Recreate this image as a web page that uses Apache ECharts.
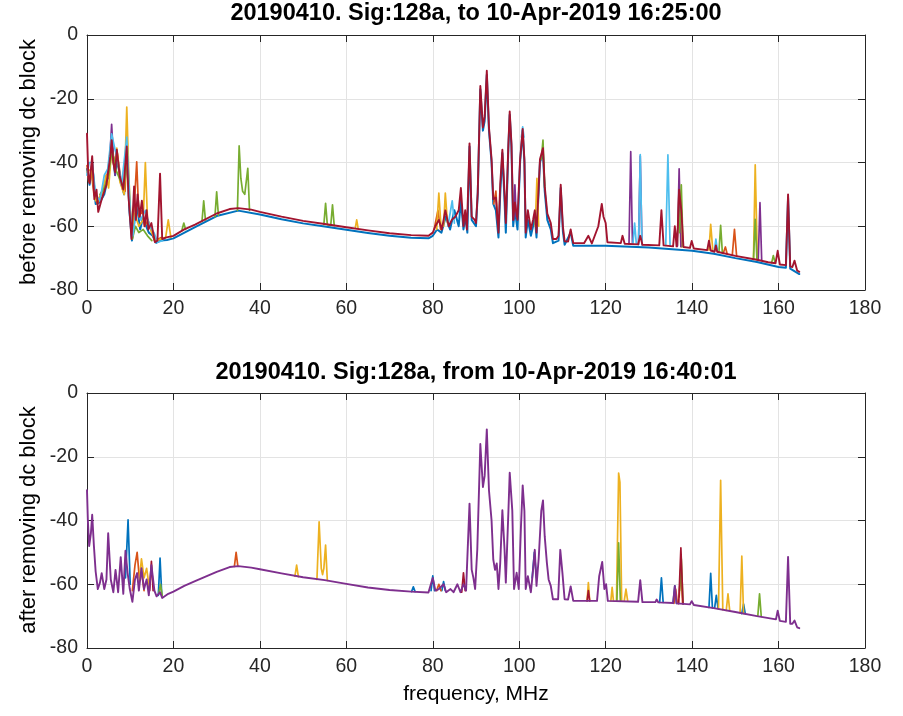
<!DOCTYPE html>
<html><head><meta charset="utf-8">
<script src="https://cdn.jsdelivr.net/npm/echarts@6/dist/echarts.min.js"></script>
<style>html,body{margin:0;padding:0;background:#fff}#c{width:903px;height:716px}</style>
</head><body><div id="c"></div>
<script>
// ---------- tick labels ----------
const xTickLabels = [0,20,40,60,80,100,120,140,160,180];
const yTickLabels = [-80,-60,-40,-20,0];
const titles = ['20190410. Sig:128a, to 10-Apr-2019 16:25:00','20190410. Sig:128a, from 10-Apr-2019 16:40:01'];
const yNames = ['before removing dc block','after removing dc block'];
const xName = 'frequency, MHz';

// ---------- TOP panel (before removing dc block) : [MHz, dB] ----------
const topRed = [[0,-31],[0.3,-44],[0.6,-46.5],[1.2,-38],[1.7,-51.5],[2.2,-48.5],[2.6,-55.5],[3.4,-51.5],[4.0,-49],[4.5,-47],[4.9,-43],[5.4,-38],[5.7,-33],[6.1,-40],[6.5,-43],[6.9,-36],[7.6,-44.5],[8.4,-48.5],[9.2,-35],[9.6,-50.5],[10.3,-64],[10.9,-47.5],[11.3,-58],[11.7,-50],[12.2,-57],[12.7,-52],[13.3,-60],[13.8,-55],[14.2,-61],[14.9,-59],[15.7,-65],[16.3,-64.5],[16.9,-43.5],[17.4,-64],[18.4,-63.5],[20,-63],[22.5,-61],[25,-59.5],[30,-56],[33,-54.6],[35,-54.3],[38,-54.8],[40,-55.5],[45,-57],[50,-58.3],[55,-59.3],[60,-60.3],[65,-61.3],[70,-62.2],[75,-62.8],[79,-63],[80,-62],[80.6,-60],[81.4,-58],[82.1,-61],[82.9,-55],[83.7,-60],[84.4,-58],[85.2,-57],[86,-55],[86.5,-48],[87.1,-60],[87.5,-55],[87.9,-61],[88.5,-34],[89,-57],[89.7,-58],[90,-59],[90.4,-49.5],[91,-16],[91.6,-29],[92,-25.7],[92.5,-11.2],[93,-29],[93.6,-39],[94,-51.5],[94.6,-51],[95.2,-62],[95.6,-47],[96.1,-36],[96.6,-49.5],[96.9,-59],[97.5,-34],[97.8,-24],[98.2,-34],[98.6,-58],[99,-52.5],[99.6,-58],[100.2,-39],[100.8,-29.5],[101.2,-39],[101.5,-62],[102,-55],[102.7,-61],[103.2,-58],[103.6,-55],[104,-62],[104.8,-39],[105.1,-38.5],[105.5,-35.5],[105.9,-47.5],[106.5,-56],[107.3,-59],[107.8,-64],[108.6,-64],[109.1,-63],[109.6,-47],[110.1,-60],[110.5,-64.7],[111.3,-64.8],[111.9,-61],[112.5,-65.3],[115,-65.3],[116,-63],[116.8,-65.4],[118.3,-60],[119.1,-53],[119.5,-57],[120,-59],[120.4,-65],[123.5,-65.3],[123.9,-63],[124.4,-65.5],[127.5,-65.7],[128,-63],[128.5,-65.8],[132.4,-66],[132.9,-55],[133.4,-66],[135.6,-66.3],[136,-60],[136.4,-66.3],[136.7,-60],[137,-48.5],[137.5,-55],[138,-66.5],[139.5,-66.8],[139.9,-64.6],[140.4,-67],[143.5,-67.5],[143.9,-64.5],[144.3,-67.6],[145.2,-68],[145.5,-66],[145.8,-68],[150,-69.3],[155,-70.5],[157.6,-71.3],[159.3,-71.6],[159.8,-67.7],[160.3,-72],[161.7,-72.2],[162.2,-50],[162.7,-72.6],[163.2,-72.8],[163.7,-70.8],[164.3,-73.9],[164.8,-74.3]];
const topBlue = [[0,-42],[0.6,-47],[1.2,-40],[2,-53],[3,-52.5],[4,-50],[4.8,-45],[5.7,-34],[6.5,-44],[7,-39],[7.8,-46],[8.6,-50],[9.2,-36],[9.8,-55],[10.4,-64.5],[11,-58],[11.6,-54],[12.3,-61],[13,-57],[13.7,-60],[14.3,-62],[15.2,-63],[16,-65.2],[17,-64.5],[18.5,-64.3],[20,-63.8],[25,-60.3],[30,-56.8],[35,-55.1],[40,-56.3],[45,-57.8],[50,-59.1],[55,-60.1],[60,-61.1],[65,-62.1],[70,-63],[75,-63.6],[79,-63.8],[80,-63],[81,-61],[82,-62],[83,-57],[84,-61],[85,-55],[86,-60],[86.5,-52],[87.1,-61],[87.6,-57],[88,-62],[88.5,-35],[89,-58],[90,-60],[90.4,-50],[91,-17],[91.6,-30],[92,-27],[92.5,-12.5],[93,-30],[93.6,-40],[94,-53],[94.6,-55],[95.2,-63.5],[95.6,-50],[96.1,-37],[96.6,-52],[96.9,-62],[97.5,-35],[97.8,-25],[98.2,-35],[98.6,-60],[99,-55],[99.6,-61],[100.2,-40],[100.8,-30],[101.2,-40],[101.5,-63.5],[102,-58],[102.7,-63],[103.2,-60],[103.6,-57],[104,-63.5],[104.8,-40],[105.5,-37],[105.9,-49],[106.5,-58],[107.3,-61],[107.8,-65.3],[109.1,-64.5],[109.6,-48],[110.1,-61.5],[110.5,-65.8],[111.9,-62],[112.5,-66.1],[120,-66.1],[130,-66.7],[140,-67.7],[145,-68.6],[150,-70],[155,-71.2],[160,-72.8],[161.7,-73],[162.2,-51],[162.7,-73.3],[164.8,-75]];
const topOrangeSegs = [
 [[0,-41],[0.4,-46],[1,-43],[1.6,-50],[2.4,-53],[3.2,-50],[4,-47],[4.8,-43],[5.5,-35],[6.2,-41],[7,-37],[7.8,-45],[8.8,-49],[9.3,-34],[9.8,-52],[10.4,-63.5],[11,-52],[11.5,-39.8],[12,-57],[12.7,-55],[13.4,-60],[14.1,-58],[14.8,-61],[15.6,-64.5],[16.5,-64],[17.2,-63.5]],
 [[80.3,-61],[81.2,-55],[81.8,-61]],
 [[94.1,-53],[94.6,-49],[95,-58]],
 [[147.2,-68.5],[147.7,-66.5],[148.1,-68.6]],
 [[149.3,-69],[149.8,-61],[150.3,-69.4]]
];
const topYellowSegs = [
 [[0,-43],[1,-42],[2,-52],[3.5,-50],[4.4,-44],[5,-48],[5.7,-36],[6.5,-40],[6.9,-35.5],[7.6,-46],[8.6,-50],[9.2,-22.6],[9.7,-45],[10.3,-62],[11,-56],[12,-60],[13,-58],[13.5,-40],[14,-58],[15,-62],[16,-64.5],[18.2,-63.5],[18.8,-58],[19.4,-63.5]],
 [[80.9,-61],[81.4,-49.6],[81.9,-60]],
 [[82.5,-60],[82.9,-49.6],[83.4,-59]],
 [[62.1,-60.3],[62.4,-58],[62.7,-60.4]],
 [[103.7,-60],[104.1,-45],[104.5,-60]],
 [[136.6,-66],[137,-46],[137.5,-66.5]],
 [[143.9,-67.5],[144.3,-59.4],[144.8,-67.8]],
 [[154.2,-70.3],[154.6,-40.7],[155.1,-70.5]]
];
const topPurpleSegs = [
 [[4.8,-45],[5.3,-38],[5.7,-28],[6.1,-38],[6.5,-44]],
 [[98.7,-58],[99,-47],[99.3,-57]],
 [[125.4,-65.6],[125.8,-36.6],[126.2,-65.6]],
 [[127.6,-65.7],[128,-38],[128.4,-65.8]],
 [[136.6,-66.3],[137,-42],[137.4,-66.4]],
 [[155.3,-70.6],[155.7,-52.6],[156.1,-70.7]]
];
const topGreenSegs = [
 [[3,-50],[4,-48],[5,-44],[5.8,-36],[6.6,-42],[7.5,-45],[8.5,-48],[9.3,-38],[10,-56],[10.5,-64],[11.2,-60],[12,-62],[13,-61],[14,-63],[15,-64.5]],
 [[22,-61],[22.4,-59],[22.8,-61]],
 [[26.6,-58.5],[27,-52],[27.4,-58]],
 [[29.6,-57],[30,-49.2],[30.4,-56.5]],
 [[34.8,-55],[35.2,-34.8],[35.6,-45],[36,-49],[36.5,-50],[37.2,-41.8],[37.6,-55]],
 [[54.8,-59.5],[55.2,-52.8],[55.6,-59.5],[56.4,-59.7],[56.8,-53.3],[57.2,-59.8]],
 [[105.1,-39],[105.5,-33],[105.9,-48]],
 [[137.1,-62],[137.5,-47],[137.9,-66.5]],
 [[146.2,-68.2],[146.6,-59.7],[147,-68.3]],
 [[154.2,-70.4],[154.6,-57.8],[155,-70.5]],
 [[158.4,-71.4],[158.8,-69.2],[159.2,-71.5]]
];
const topCyanSegs = [
 [[0,-44],[0.5,-40],[1.2,-40],[2,-50],[3,-52],[4,-44],[4.8,-42],[5.7,-31],[6.5,-36],[7.2,-40],[8,-47],[9.2,-32],[10,-55],[10.6,-63],[11.7,-52],[12.4,-58],[13.5,-55],[14.5,-60],[15.5,-62],[16.3,-65],[17.5,-64.5]],
 [[83.5,-60],[84.5,-52],[85,-59]],
 [[100.5,-32],[100.8,-28.8],[101.1,-32]],
 [[126.3,-65.6],[126.7,-59],[127.1,-65.6]],
 [[127.6,-65.7],[128,-37.5],[128.4,-65.8]],
 [[133.9,-66],[134.4,-37.6],[134.9,-66.1]],
 [[145.1,-68],[145.5,-64],[145.9,-68]]
];

// ---------- BOTTOM panel (after removing dc block) : [MHz, dB] ----------
const botPurple = [[0,-30.5],[0.2,-40],[0.5,-48],[0.9,-44],[1.2,-38.2],[1.6,-48],[2,-56],[2.5,-61.5],[3,-59.5],[3.4,-56.5],[4,-61.5],[4.5,-58.5],[4.9,-44],[5.5,-58.5],[6.1,-62.5],[6.6,-55.5],[7.2,-62.5],[7.8,-51.5],[8.4,-63],[8.9,-49.5],[9.4,-56.5],[9.9,-61.5],[10.5,-65.5],[11.1,-58.5],[11.6,-56.5],[12,-62],[12.6,-55],[13.2,-61.5],[13.8,-58.5],[14.3,-63.5],[14.9,-54],[15.6,-62],[16.1,-63.8],[16.9,-62.5],[17.4,-64.3],[18.8,-63],[20,-62.3],[22.5,-60.5],[25,-59],[30,-56.1],[33,-54.6],[35,-54.3],[38,-54.8],[40,-55.3],[45,-56.6],[50,-57.8],[55,-58.7],[60,-59.9],[65,-61],[70,-61.8],[75,-62.3],[79,-62.6],[80,-58],[80.6,-62],[81.4,-61.5],[82.5,-60],[83.1,-62.5],[84.1,-61.5],[84.8,-62.5],[85.7,-60],[86.4,-62.5],[87.1,-60],[87.7,-62],[88.5,-34.7],[89,-55.4],[89.4,-58],[89.8,-61.5],[90.3,-49],[91,-16],[91.6,-29.5],[92,-26],[92.5,-11.4],[93,-30.5],[93.6,-40],[94,-52.3],[94.4,-55.5],[94.8,-53.5],[95.2,-61.5],[95.6,-53.5],[96.1,-36.8],[96.6,-49],[96.9,-59.5],[97.5,-37],[97.8,-25],[98.4,-37],[98.8,-61.5],[99.4,-56.4],[99.9,-61.5],[100.4,-42],[100.8,-29],[101.2,-37],[101.5,-61.5],[102,-57.5],[102.7,-62.5],[103.2,-55.5],[103.6,-49.2],[104,-60.5],[104.5,-52],[105.1,-37],[105.5,-33.7],[105.9,-45],[106.4,-53.3],[106.8,-58.5],[107.3,-60.5],[107.8,-64.7],[109,-64.7],[109.5,-49.2],[110,-56.5],[110.5,-64.7],[111.3,-64.8],[111.9,-60.7],[112.5,-65.2],[118,-65.2],[118.5,-57.5],[119.2,-53],[119.7,-61.5],[120.1,-60],[120.5,-65.2],[127.5,-65.5],[128,-58.7],[128.5,-65.6],[131.5,-65.6],[131.8,-64.8],[132.2,-65.7],[135.6,-65.9],[136,-60.5],[136.4,-66],[139.5,-66.3],[139.9,-65.3],[140.4,-66.5],[145,-67.5],[150,-68.7],[155,-70],[159.4,-71],[159.8,-68.3],[160.3,-71.5],[161.7,-71.8],[162.2,-51.4],[162.7,-72.4],[163.2,-72.4],[163.7,-71.4],[164.3,-73.5],[164.8,-73.8]];
const botBlueSegs = [
 [[8.9,-58],[9.5,-39.8],[10,-60]],
 [[16.5,-63.5],[16.9,-51.8],[17.3,-63.5]],
 [[75.1,-62.3],[75.5,-60.8],[75.9,-62.3]],
 [[79.6,-62],[80,-57.4],[80.4,-62]],
 [[82.1,-62],[82.5,-59.2],[82.9,-62]],
 [[103,-58],[103.5,-50],[104,-58]],
 [[132.5,-65.7],[132.9,-58],[133.3,-65.7]],
 [[135.6,-65.9],[136,-60.5],[136.4,-66]],
 [[143.9,-67.3],[144.3,-56.6],[144.7,-67.4]],
 [[145.2,-67.5],[145.6,-63.5],[146,-67.6]],
 [[151.5,-69.2],[151.9,-66.2],[152.3,-69.3]]
];
const botOrangeSegs = [
 [[10.5,-62],[11.1,-54],[11.6,-50],[12.1,-58],[12.6,-56],[13.2,-62]],
 [[34.1,-54.4],[34.5,-50],[34.9,-54.3]],
 [[80.9,-62],[81.4,-60],[81.9,-62]],
 [[135.8,-66],[136.2,-61.5],[136.6,-66]],
 [[137,-64],[137.4,-55],[137.8,-66]]
];
const botYellowSegs = [
 [[12,-60],[12.6,-52],[13.2,-58],[13.8,-55],[14.4,-61]],
 [[48.1,-57.5],[48.5,-54],[48.9,-57.6]],
 [[53.2,-58.5],[53.7,-40.4],[54.2,-55],[54.5,-57],[54.8,-55],[55.2,-47.7],[55.6,-58.8]],
 [[115.7,-65.2],[116,-59.5],[116.3,-65.2]],
 [[121.2,-65.2],[121.5,-61],[121.8,-65.2]],
 [[122.5,-65.2],[123,-25.1],[123.3,-28],[123.7,-65.2]],
 [[124.3,-65.2],[124.7,-61.5],[125.1,-65.3]],
 [[146.1,-67.8],[146.6,-27.4],[147.1,-68]],
 [[147.9,-68.2],[148.3,-63],[148.7,-68.3]],
 [[151.1,-69],[151.5,-51.2],[151.9,-69.2]]
];
const botGreenSegs = [
 [[16.6,-63],[17,-60],[17.4,-63.5]],
 [[122.6,-65.2],[123,-47],[123.4,-65.2]],
 [[137.1,-62],[137.5,-52],[137.9,-66.2]],
 [[155.2,-70],[155.6,-63],[156,-70.1]]
];
const botRedSegs = [
 [[14.5,-62],[14.9,-52.8],[15.3,-62]],
 [[86.7,-62.5],[87.1,-56.4],[87.5,-62]],
 [[115.7,-65.2],[116,-62],[116.3,-65.2]],
 [[136.9,-66.1],[137.4,-48.6],[137.9,-66.2]]
];

// ---------- styling ----------
const C = {blue:'#0072BD', orange:'#D95319', yellow:'#EDB120', purple:'#7E2F8E', green:'#77AC30', cyan:'#4DBEEE', red:'#A2142F'};
const AX = '#262626', GRID = '#e3e3e3', FONT = 'Liberation Sans, Arial, Helvetica, sans-serif';
const grids = [{left:87, top:35, width:778, height:255}, {left:87, top:393, width:778, height:255}];

function segs(list){ const out=[]; list.forEach((s,i)=>{ if(i) out.push([s[0][0], null]); s.forEach(p=>out.push(p)); }); return out; }
function line(gi, color, data, w){ return {type:'line', xAxisIndex:gi*2, yAxisIndex:gi*2, data:data, showSymbol:false, symbol:'none', connectNulls:false, silent:true, animation:false, lineStyle:{color:color, width:w||1.7, join:'round', cap:'round'}, itemStyle:{color:color}}; }

const xAxis=[], yAxis=[];
grids.forEach((g,gi)=>{
  const common = {type:'value', gridIndex:gi, min:xTickLabels[0], max:xTickLabels[xTickLabels.length-1], interval:xTickLabels[1]-xTickLabels[0]};
  xAxis.push(Object.assign({}, common, {position:'bottom', axisLine:{show:true,onZero:false,lineStyle:{color:AX,width:1}}, axisTick:{show:true,inside:true,length:7,lineStyle:{color:AX}}, axisLabel:{fontSize:19.5,color:AX,margin:9,fontFamily:FONT}, splitLine:{show:true,lineStyle:{color:GRID,width:1}}}));
  xAxis.push(Object.assign({}, common, {position:'top', axisLine:{show:true,onZero:false,lineStyle:{color:AX,width:1}}, axisTick:{show:true,inside:true,length:7,lineStyle:{color:AX}}, axisLabel:{show:false}, splitLine:{show:false}}));
  const yc = {type:'value', gridIndex:gi, min:yTickLabels[0], max:yTickLabels[yTickLabels.length-1], interval:yTickLabels[1]-yTickLabels[0]};
  yAxis.push(Object.assign({}, yc, {position:'left', axisLine:{show:true,onZero:false,lineStyle:{color:AX,width:1}}, axisTick:{show:true,inside:true,length:7,lineStyle:{color:AX}}, axisLabel:{fontSize:19.5,color:AX,margin:9,fontFamily:FONT}, splitLine:{show:true,lineStyle:{color:GRID,width:1}}}));
  yAxis.push(Object.assign({}, yc, {position:'right', axisLine:{show:true,onZero:false,lineStyle:{color:AX,width:1}}, axisTick:{show:true,inside:true,length:7,lineStyle:{color:AX}}, axisLabel:{show:false}, splitLine:{show:false}}));
});

const series = [
  line(0, C.blue, topBlue, 2), line(0, C.orange, segs(topOrangeSegs)), line(0, C.yellow, segs(topYellowSegs)),
  line(0, C.purple, segs(topPurpleSegs)), line(0, C.green, segs(topGreenSegs)), line(0, C.cyan, segs(topCyanSegs)),
  line(0, C.red, topRed, 1.9),
  line(1, C.blue, segs(botBlueSegs)), line(1, C.orange, segs(botOrangeSegs)), line(1, C.yellow, segs(botYellowSegs)),
  line(1, C.green, segs(botGreenSegs)), line(1, C.red, segs(botRedSegs)),
  line(1, C.purple, botPurple, 1.9)
];

const txt = (x,y,s,size,bold,rot)=>({type:'text', x:x, y:y, rotation:rot||0, silent:true, style:{text:s, fill:'#000', font:(bold?'bold ':'')+size+'px '+FONT, textAlign:'center', textVerticalAlign:'middle'}});
const graphic = [
  txt(476, 14, titles[0], 23.5, true), txt(476, 373, titles[1], 23.5, true),
  txt(29, 162, yNames[0], 22, false, Math.PI/2), txt(29, 520, yNames[1], 22, false, Math.PI/2),
  txt(476, 694, xName, 21, false)
];

const chart = echarts.init(document.getElementById('c'), null, {renderer:'canvas'});
chart.setOption({animation:false, backgroundColor:'#fff', grid:grids, xAxis:xAxis, yAxis:yAxis, series:series, graphic:graphic});
</script></body></html>
